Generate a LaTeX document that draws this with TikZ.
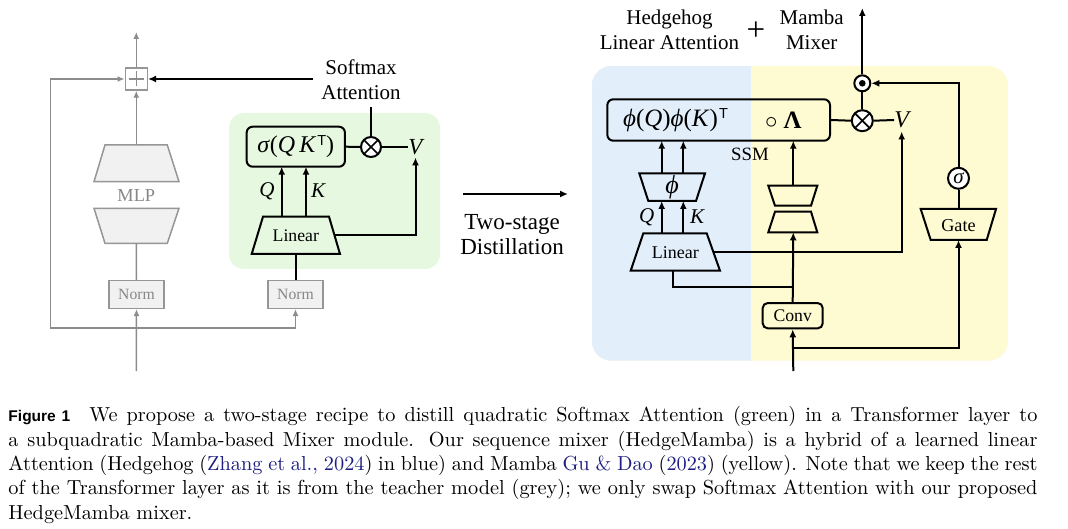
\documentclass[tikz,border=0pt]{standalone}
\usepackage{fontspec}
\newfontfamily\tnr{Liberation Serif}
\newfontfamily\hvb{Liberation Sans}
\newfontfamily\capfont{lmroman10-regular.otf}
\usetikzlibrary{arrows.meta}
\definecolor{gbg}{RGB}{230,249,224}
\definecolor{bbg}{RGB}{227,238,251}
\definecolor{ybg}{RGB}{254,250,209}
\definecolor{gline}{RGB}{140,140,140}
\definecolor{gfill}{RGB}{241,241,241}
\definecolor{gbord}{RGB}{150,150,150}
\definecolor{gtext}{RGB}{135,135,135}
\definecolor{citec}{RGB}{30,30,130}
\newcommand\tsup[1]{\kern1pt\raisebox{#1}{\hvb\upshape\fontsize{14.5}{14.5}\selectfont T}}
\begin{document}
\begin{tikzpicture}[x=1pt,y=-1pt,
  blk/.style={line width=2pt,draw=black},
  gry/.style={line width=1.5pt,draw=gline},
  arr/.style={-{Latex[length=8pt,width=7pt]}},
  garr/.style={-{Latex[length=7pt,width=6pt]}},
  lbl/.style={inner sep=0pt,align=center,font=\tnr\fontsize{#1}{25}\selectfont},
  rbox/.style={draw,line width=2pt,rounded corners=6pt,inner sep=0pt},
  gbox/.style={draw=gbord,fill=gfill,line width=1.5pt,inner sep=0pt,text=gtext},
  opc/.style={circle,draw,line width=2pt,inner sep=0pt,fill=white},
  otimes/.style={opc,minimum size=20pt,path picture={
     \draw[line width=1.7pt,black] (path picture bounding box.north west) -- (path picture bounding box.south east);
     \draw[line width=1.7pt,black] (path picture bounding box.north east) -- (path picture bounding box.south west);}},
  odotc/.style={opc,minimum size=16pt,path picture={\fill[black] (path picture bounding box.center) circle (3.3pt);}}
]
\useasboundingbox (0,0) rectangle (1068,529);
\fill[white] (0,0) rectangle (1068,529);

% ================= LEFT: Transformer layer =================
\fill[gbg,rounded corners=15pt] (229,113) rectangle (440,269);

\coordinate (outL) at (136.3,32);
\coordinate (inL) at (136.3,371);
\coordinate (jL) at (136.3,328);
\coordinate (loopB) at (50.7,328);
\coordinate (loopT) at (50.7,79);
\node[draw=gbord,fill=white,line width=1.5pt,minimum size=22pt,inner sep=0pt] (plus) at (136.3,79) {};
\draw[line width=1.3pt,gline] (128.8,79) -- (143.8,79) (136.3,71.5) -- (136.3,86.5);
\draw[gry,garr] (plus.north) -- (outL);

\node[gbox,minimum width=55pt,minimum height=27.6pt,font=\tnr\fontsize{15.7}{18}\selectfont] (normL) at (136.5,294.5) {Norm};
\node[gbox,minimum width=55pt,minimum height=27.6pt,font=\tnr\fontsize{15.7}{18}\selectfont] (normR) at (295.5,294.5) {Norm};

% MLP
\draw[gry,draw=gbord,fill=gfill,line join=miter] (105,145) -- (167.3,145) -- (179,181.7) -- (94,181.7) -- cycle;
\draw[gry,draw=gbord,fill=gfill,line join=miter] (94,208.3) -- (179,208.3) -- (167.3,243.3) -- (105,243.3) -- cycle;
\node[lbl=18.3,text=gtext] (mlp) at (136.3,196) {MLP};
\coordinate (mlpT) at (136.3,145);
\coordinate (mlpB) at (136.3,243.3);

\draw[gry,garr] (inL) -- (normL.south);
\draw[gry,garr] (jL) -- (loopB) -- (loopT) -- (plus.west);
\draw[gry,garr] (jL) -| (normR.south);
\draw[gry] (normL.north) -- (mlpB);
\draw[gry,garr] (mlpT) -- (plus.south);

% Softmax attention
\node[lbl=21] (smx) at (361,80) {Softmax\\Attention};
\coordinate (smxA) at (313,79);
\draw[blk,arr] (smxA) -- (plus.east);

\node[rbox,minimum width=98.3pt,minimum height=40pt,font=\tnr\fontsize{24}{25}\selectfont] (sig) at (295.8,146.7) {\textit{σ}(\textit{Q\,K}\tsup{7.5pt})};
\node[otimes] (otL) at (371,147) {};
\coordinate (smxB) at (371,106.7);
\node[lbl=23,font=\tnr\itshape\fontsize{23}{25}\selectfont] (VL) at (415.5,147) {V};
\coordinate (VLb) at (415.5,157.5);

\draw[blk,fill=gbg,line join=miter] (263,216.7) -- (329,216.7) -- (340,254) -- (251.7,254) -- cycle;
\node[lbl=17.7] (linL) at (295.8,236) {Linear};
\coordinate (linLb) at (295.5,254);
\coordinate (linLr) at (335,235.5);
\coordinate (qL0) at (281.7,216.7); \coordinate (qL1) at (281.7,166.7);
\coordinate (kL0) at (306,216.7);   \coordinate (kL1) at (306,166.7);
\node[lbl=21,font=\tnr\itshape\fontsize{21}{25}\selectfont] (QL) at (267,191) {Q};
\node[lbl=21,font=\tnr\itshape\fontsize{21}{25}\selectfont] (KL) at (318,191) {K};

\draw[blk] (smxB) -- (otL.north);
\draw[blk] (sig.east) -- (otL.west);
\draw[blk] (otL.east) -- (VL.west);
\draw[blk,arr] (qL0) -- (qL1);
\draw[blk,arr] (kL0) -- (kL1);
\draw[blk] (normR.north) -- (linLb);
\draw[blk,arr] (linLr) -| (VLb);

% ================= MIDDLE =================
\coordinate (dA) at (463,194);
\coordinate (dB) at (568,194);
\draw[blk,arr] (dA) -- (dB);
\node[lbl=23] (dist) at (512,235) {Two-stage\\Distillation};

% ================= RIGHT: HedgeMamba =================
\begin{scope}
\clip[rounded corners=20pt] (591.7,66) rectangle (1008,360.7);
\fill[ybg] (591.7,66) rectangle (1008,360.7);
\fill[bbg] (591.7,66) rectangle (750.7,360.7);
\end{scope}

\node[lbl=21] (hh) at (669.5,29.5) {Hedgehog\\Linear Attention};
\node[lbl=33] (pl) at (756,31) {+};
\node[lbl=21] (mm) at (811.7,29.5) {Mamba\\Mixer};

\node[rbox,minimum width=222.7pt,minimum height=41.4pt] (ssm) at (718.65,120) {};
\node[lbl=25] (phiQK) at (675.5,120) {\textit{ϕ}(\textit{Q})\textit{ϕ}(\textit{K})\tsup{8pt}};
\node[lbl=25] (lam) at (783.3,120) {$\circ$ \textbf{Λ}};
\node[lbl=18.8] (ssmlbl) at (750,154) {SSM};

\node[otimes,minimum size=21pt] (otR) at (862.3,120.7) {};
\node[odotc] (odt) at (862.3,83.3) {};
\coordinate (outR) at (862.3,8);
\node[lbl=24,font=\tnr\itshape\fontsize{24}{25}\selectfont] (VR) at (901.7,120) {V};
\coordinate (VRb) at (901.7,131.5);

% phi trapezoid
\draw[blk,line join=miter] (639.3,173.3) -- (705,173.3) -- (696,201) -- (648.3,201) -- cycle;
\node[lbl=26,font=\tnr\itshape\fontsize{26}{25}\selectfont] (phi) at (672,187) {ϕ};
% Linear right
\draw[blk,line join=miter] (643.3,233.3) -- (706.7,233.3) -- (720,270.7) -- (630.7,270.7) -- cycle;
\node[lbl=18] (linR) at (675.3,252.5) {Linear};
\coordinate (linRr) at (713.3,252.3);
\coordinate (linRb) at (673.3,270.7);
\coordinate (qR0) at (661.7,233.3); \coordinate (qR1) at (661.7,201);
\coordinate (kR0) at (683.3,233.3); \coordinate (kR1) at (683.3,201);
\coordinate (qR2) at (661.7,173.3); \coordinate (qR3) at (661.7,140.7);
\coordinate (kR2) at (683.3,173.3); \coordinate (kR3) at (683.3,140.7);
\node[lbl=21,font=\tnr\itshape\fontsize{21}{25}\selectfont] (QR) at (646.7,217) {Q};
\node[lbl=21,font=\tnr\itshape\fontsize{21}{25}\selectfont] (KR) at (697,217) {K};

% SSM trapezoids
\draw[blk,line join=miter] (768.3,185.7) -- (817.3,185.7) -- (811,205.7) -- (775,205.7) -- cycle;
\draw[blk,line join=miter] (775,211.7) -- (811,211.7) -- (817.3,232.3) -- (768.3,232.3) -- cycle;
\coordinate (ssmT) at (793.3,185.7);
\coordinate (ssmB) at (793.3,232.3);
\coordinate (ssmIn) at (793.3,140.7);

% Conv
\node[rbox,minimum width=60pt,minimum height=25.3pt,rounded corners=5pt,font=\tnr\fontsize{17.7}{20}\selectfont] (conv) at (792.7,315.7) {Conv};
\coordinate (inR) at (793.3,371);
\coordinate (jR) at (793.3,348.3);
\coordinate (jR2) at (793.3,287.3);

% Gate
\draw[blk,line join=miter] (920.7,209) -- (996,209) -- (986.7,240) -- (930.7,240) -- cycle;
\node[lbl=18.2] (gate) at (958.5,225.5) {Gate};
\coordinate (gateT) at (958.5,209);
\coordinate (gateB) at (958.5,240);
\node[opc,minimum size=21pt,font=\tnr\itshape\fontsize{21}{25}\selectfont] (sg) at (958.5,178.3) {σ};

% connectors right
\draw[blk,arr] (odt.north) -- (outR);
\draw[blk] (otR.north) -- (odt.south);
\draw[blk] (ssm.east) -- (otR.west);
\draw[blk] (otR.east) -- (VR.west);
\draw[blk,arr] (linRr) -| (VRb);
\draw[blk,arr] (qR0) -- (qR1);
\draw[blk,arr] (kR0) -- (kR1);
\draw[blk,arr] (qR2) -- (qR3);
\draw[blk,arr] (kR2) -- (kR3);
\draw[blk,arr] (ssmT) -- (ssmIn);
\draw[blk,arr] (inR) -- (conv.south);
\draw[blk,arr] (conv.north) -- (ssmB);
\draw[blk] (jR2) -| (linRb);
\draw[blk,arr] (jR) -| (gateB);
\draw[blk] (gateT) -- (sg.south);
\draw[blk,arr] (sg.north) |- (odt.east);

% ================= CAPTION =================
\node[anchor=north west,inner sep=0pt,text width=1029pt,align=justify,
      font=\capfont\fontsize{20.3}{24.3}\selectfont] (cap) at (8.3,404.6)
 {\strut{\hvb\bfseries\fontsize{15.5}{20}\selectfont Figure 1}\hspace{0.5em} We propose a two-stage recipe to distill quadratic Softmax Attention (green) in a Transformer layer to\linebreak
 a subquadratic Mamba-based Mixer module. Our sequence mixer (HedgeMamba) is a hybrid of a learned linear\linebreak
 Attention (Hedgehog ({\color{citec}Zhang et al., 2024}) in blue) and Mamba {\color{citec}Gu \& Dao} ({\color{citec}2023}) (yellow). Note that we keep the rest\linebreak
 of the Transformer layer as it is from the teacher model (grey); we only swap Softmax Attention with our proposed\linebreak
 HedgeMamba mixer.};
\end{tikzpicture}
\end{document}
